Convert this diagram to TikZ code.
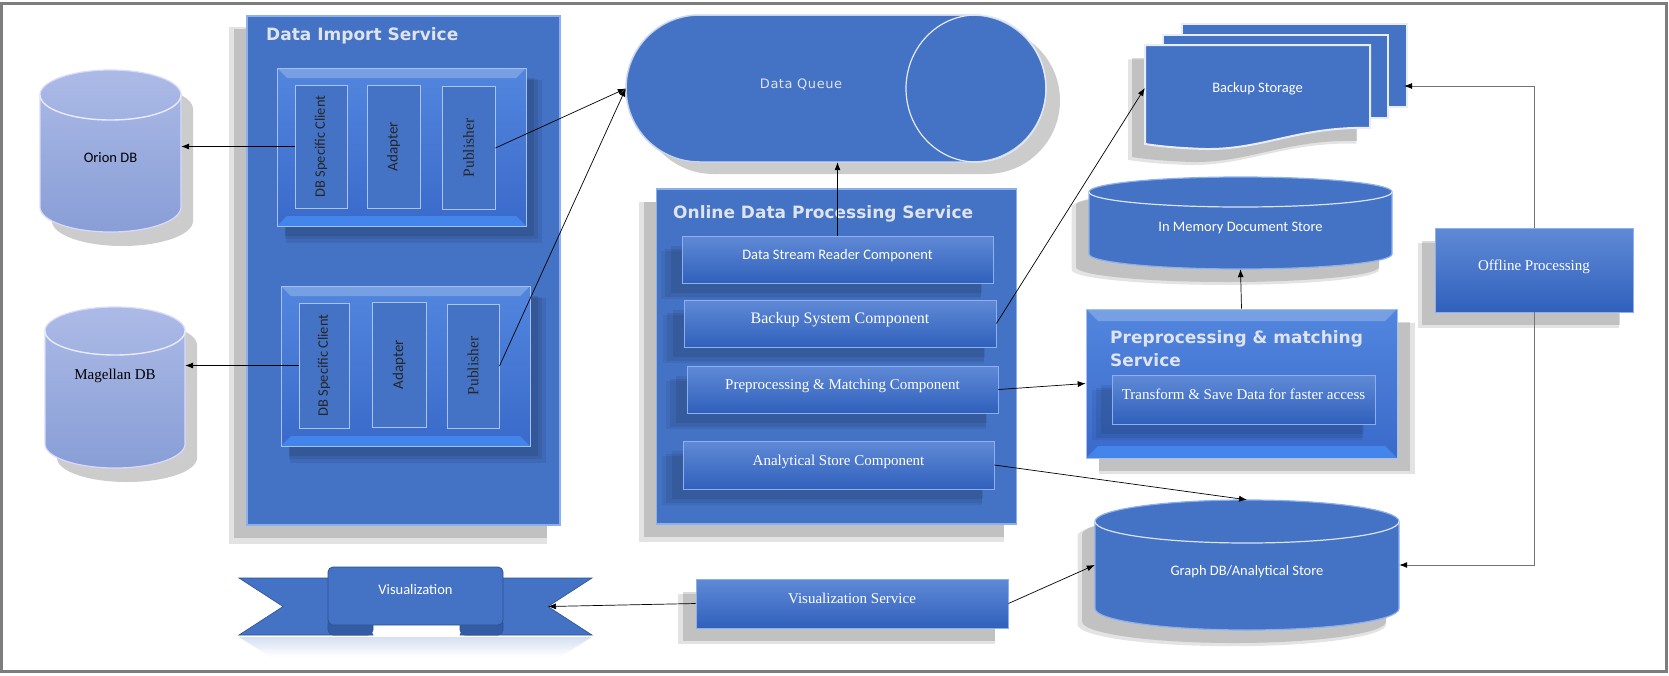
\documentclass[tikz,border=0pt]{standalone}
\usepackage{fontspec}
\setmainfont{Liberation Serif}
\newfontfamily\calibri{Carlito}
\newfontfamily\verdana{DejaVu Sans}
\newfontfamily\queuefont[LetterSpace=4]{DejaVu Sans}
\usetikzlibrary{arrows.meta,shadows}
\definecolor{officeblue}{RGB}{68,114,196}
\definecolor{comptop}{RGB}{96,138,214}
\definecolor{compbottom}{RGB}{48,96,188}
\definecolor{blueedge}{RGB}{140,176,236}
\definecolor{grouptop}{RGB}{82,134,222}
\definecolor{groupbottom}{RGB}{58,106,202}
\definecolor{bevelglow}{RGB}{70,142,246}
\definecolor{lavtop}{RGB}{172,186,230}
\definecolor{lavbottom}{RGB}{136,158,214}
\definecolor{titlegray}{RGB}{222,227,236}
\definecolor{pageedge}{RGB}{232,236,244}
\definecolor{ribbonedge}{RGB}{47,82,143}
\definecolor{ribbonfold}{RGB}{52,92,166}
\definecolor{framegray}{RGB}{125,125,125}

% drum: body style, rim style, centre x, top y, x radius, bottom y, y radius
\newcommand{\drawdrum}[7]{%
  \path[#1] (#3-#5,#4+#7) -- (#3-#5,#6-#7) arc[start angle=180,end angle=0,x radius=#5,y radius=#7]
    -- (#3+#5,#4+#7) arc[start angle=0,end angle=-180,x radius=#5,y radius=#7] -- cycle;
  \draw[#2] (#3-#5,#4+#7) arc[start angle=180,end angle=0,x radius=#5,y radius=#7];
}

\tikzset{
  container/.style={rectangle, draw=blueedge, line width=1.5pt, fill=officeblue, inner sep=0pt},
  shadowleft/.style={drop shadow={shadow xshift=-15pt, shadow yshift=-15pt, fill=black, opacity=.11, shadow scale=1.015},
                     drop shadow={shadow xshift=-13pt, shadow yshift=-13pt, fill=black, opacity=.15}},
  shadowright/.style={drop shadow={shadow xshift=15pt, shadow yshift=-15pt, fill=black, opacity=.11, shadow scale=1.015},
                      drop shadow={shadow xshift=13pt, shadow yshift=-13pt, fill=black, opacity=.15}},
  compshadow/.style={drop shadow={shadow xshift=-16pt, shadow yshift=-15pt, fill=black, opacity=.06, shadow scale=1.03},
                     drop shadow={shadow xshift=-14pt, shadow yshift=-13pt, fill=black, opacity=.07, shadow scale=1.015},
                     drop shadow={shadow xshift=-11pt, shadow yshift=-10pt, fill=black, opacity=.08}},
  groupshadow/.style={drop shadow={shadow xshift=12pt, shadow yshift=-14pt, fill=black, opacity=.07, shadow scale=1.03},
                      drop shadow={shadow xshift=10pt, shadow yshift=-12pt, fill=black, opacity=.08, shadow scale=1.015},
                      drop shadow={shadow xshift=8pt, shadow yshift=-10pt, fill=black, opacity=.09}},
  bevelled/.style={path picture={
    \fill[white, opacity=.22] (path picture bounding box.north west) -- (path picture bounding box.north east)
      -- ([shift={(-#1,-#1)}]path picture bounding box.north east) -- ([shift={(#1,-#1)}]path picture bounding box.north west) -- cycle;
    \fill[bevelglow, opacity=.75] (path picture bounding box.south west) -- (path picture bounding box.south east)
      -- ([shift={(-#1,#1)}]path picture bounding box.south east) -- ([shift={(#1,#1)}]path picture bounding box.south west) -- cycle;
  }},
  svctitle/.style={text=titlegray, font=\verdana\bfseries\fontsize{17}{23}\selectfont, inner sep=0pt, align=left},
  compbox/.style={rectangle, draw=blueedge, line width=.8pt, top color=comptop, bottom color=compbottom,
    text=white, inner sep=0pt, text height=11pt, text depth=11pt, font=\fontsize{15}{18}\selectfont},
  importgroup/.style={rectangle, top color=grouptop, bottom color=groupbottom, draw=blueedge!80, line width=.6pt,
    bevelled=10pt, groupshadow},
  importpart/.style={rectangle, fill=officeblue, draw=blueedge!75, line width=.9pt, text=black!85,
    minimum height=123pt, inner sep=0pt},
  lavbody/.style={top color=lavtop, bottom color=lavbottom, draw=white!85!blue, line width=1.2pt,
    drop shadow={shadow xshift=12pt, shadow yshift=-14pt, fill=black, opacity=.2}},
  lavrim/.style={draw=white!92!blue, line width=1.4pt},
  bluebody/.style={fill=officeblue, draw=blueedge, line width=1.2pt, shadowleft},
  bluerim/.style={draw=white!80!officeblue, line width=1.2pt},
  dbtext/.style={rectangle, inner sep=0pt, text depth=4pt},
  pagestyle/.style={fill=officeblue, draw=pageedge, line width=2pt},
  ribbonwing/.style={fill=officeblue, draw=ribbonedge, line width=.6pt},
  vizpanel/.style={rectangle, rounded corners=5pt, fill=officeblue, draw=ribbonedge, line width=.8pt,
    minimum width=175pt, minimum height=58pt, inner sep=0pt, text=white, text height=10pt, text depth=14pt,
    font=\calibri\fontsize{14.5}{17}\selectfont},
  link/.style={-{Latex[length=8pt,width=6pt]}, line width=.7pt, black},
  glink/.style={-{Latex[length=8pt,width=6pt,black]}, line width=.9pt, draw=black!55}
}

\begin{document}
\begin{tikzpicture}[x=1pt,y=-1pt]
\useasboundingbox (0,0) rectangle (1669,675);
\fill[white] (0,0) rectangle (1669,675);
\draw[framegray, line width=3pt] (1.5,3.5) rectangle (1666,671.5);

% source databases
\drawdrum{lavbody}{lavrim}{110.5}{70}{70.5}{232}{25}
\node[dbtext, minimum width=141pt, minimum height=162pt, text height=26.4pt, font=\calibri\fontsize{14.5}{17}\selectfont] (orion) at (110.5,151) {Orion DB};
\drawdrum{lavbody}{lavrim}{115}{307}{70}{468}{24}
\node[dbtext, minimum width=140pt, minimum height=161pt, text height=10pt, text depth=27pt, font=\fontsize{15}{18}\selectfont] (magellan) at (115,387.5) {Magellan DB};

% data import service
\node[container, shadowleft, minimum width=313pt, minimum height=509pt] (dis) at (403.5,270.5) {};
\node[svctitle, anchor=west] (distitle) at (266,36) {Data Import Service};
\node[importgroup, minimum width=249pt, minimum height=158pt] (grpA) at (401.5,147) {};
\node[importpart, minimum width=52pt] (clientA) at (321,146.5) {\rotatebox{90}{\calibri\fontsize{14.5}{17}\selectfont DB Specific Client}};
\node[importpart, minimum width=53pt] (adapterA) at (393.5,146.5) {\rotatebox{90}{\calibri\fontsize{15}{17}\selectfont Adapter}};
\node[importpart, minimum width=53pt] (pubA) at (468.5,148) {\rotatebox{90}{\fontsize{15.5}{18}\selectfont Publisher}};
\node[importgroup, minimum width=249pt, minimum height=160pt] (grpB) at (405.5,366) {};
\node[importpart, minimum width=50pt, minimum height=125pt] (clientB) at (324,365.5) {\rotatebox{90}{\calibri\fontsize{14.5}{17}\selectfont DB Specific Client}};
\node[importpart, minimum width=54pt, minimum height=125pt] (adapterB) at (399,364.5) {\rotatebox{90}{\calibri\fontsize{15}{17}\selectfont Adapter}};
\node[importpart, minimum width=52pt, minimum height=124pt] (pubB) at (473,366) {\rotatebox{90}{\fontsize{15.5}{18}\selectfont Publisher}};

% queue
\draw[fill=officeblue, draw=white!70!officeblue, line width=1.5pt, rounded corners=73.5pt,
      drop shadow={shadow xshift=14pt, shadow yshift=-12pt, fill=black, opacity=.2}] (626,15) rectangle (1046,162);
\draw[white!85!officeblue, line width=1.2pt] (976,88.5) ellipse [x radius=70, y radius=73.5];
\node[rectangle, inner sep=0pt, minimum width=350pt, minimum height=147pt, text=titlegray, text height=10pt, text depth=11pt,
      font=\queuefont\fontsize{13}{16}\selectfont] (queue) at (801,88.5) {Data Queue};

% online data processing service
\node[container, shadowleft, minimum width=360pt, minimum height=335pt] (odps) at (836.5,356.5) {};
\node[svctitle, anchor=west] (odpstitle) at (673,214) {Online Data Processing Service};
\node[compbox, compshadow, minimum width=311pt, minimum height=47pt, font=\calibri\fontsize{14.5}{17}\selectfont] (reader) at (837.5,259.5) {Data Stream Reader Component};
\node[compbox, compshadow, minimum width=312pt, minimum height=47pt, font=\fontsize{16}{19}\selectfont] (backupcomp) at (840,323.5) {Backup System Component};
\node[compbox, compshadow, minimum width=311pt, minimum height=47pt] (matchcomp) at (842.5,389.5) {Preprocessing \& Matching Component};
\node[compbox, compshadow, minimum width=311pt, minimum height=48pt] (analyticcomp) at (838.5,465) {Analytical Store Component};

% backup storage
\foreach \dx/\dy in {37/-21.5,18/-10.5}
  \draw[pagestyle] (1145+\dx,45+\dy) rectangle (1370+\dx,128+\dy);
\draw[pagestyle, shadowleft] (1145,45) -- (1370,45) -- (1370,128) .. controls (1300,126) and (1262,150) .. (1205,149)
  .. controls (1175,148) and (1158,146) .. (1145,144) -- cycle;
\node[text=white, font=\calibri\fontsize{14.5}{17}\selectfont, minimum width=225pt, minimum height=20pt, inner sep=0pt,
      text height=12pt, text depth=4pt] (bstore) at (1257.5,88) {Backup Storage};
\coordinate (bsback) at (1404,86);

% stores and matching service
\drawdrum{bluebody}{bluerim}{1240.5}{177}{151.5}{269}{15}
\node[dbtext, minimum width=303pt, minimum height=92pt, text height=21.4pt, text=white, font=\calibri\fontsize{14.5}{17}\selectfont] (memstore) at (1240.5,223) {In Memory Document Store};
\node[rectangle, top color=grouptop, bottom color=groupbottom, draw=blueedge!80, line width=.6pt, bevelled=12pt,
      shadowright, minimum width=311pt, minimum height=149pt] (matchsvc) at (1241.5,383.5) {};
\node[svctitle, anchor=west] (matchtitle) at (1110,348.5) {Preprocessing \& matching\\Service};
\node[compbox, compshadow, minimum width=263pt, minimum height=49pt] (transform) at (1243.5,399.5) {Transform \& Save Data for faster access};
\node[compbox, shadowleft, minimum width=198pt, minimum height=84pt] (offline) at (1534,270) {Offline Processing};
\drawdrum{bluebody}{bluerim}{1247}{500}{152}{630}{21.5}
\node[dbtext, minimum width=304pt, minimum height=130pt, text height=25.4pt, text=white, font=\calibri\fontsize{14.5}{17}\selectfont] (graphdb) at (1247,565) {Graph DB/Analytical Store};

% visualization
\node[compbox, shadowleft, minimum width=312pt, minimum height=49pt] (vizsvc) at (852,603.5) {Visualization Service};
\shade[top color=officeblue!22, bottom color=white] (239,637) -- (592,637) -- (560,657) -- (271,657) -- cycle;
\draw[ribbonwing] (373,635) -- (239,635) -- (283,606.5) -- (239,578) -- (340,578) -- cycle;
\draw[ribbonwing] (460,635) -- (592,635) -- (548,606.5) -- (592,578) -- (490,578) -- cycle;
\draw[ribbonwing, fill=ribbonfold, rounded corners=5pt] (328,618) rectangle (373,635);
\draw[ribbonwing, fill=ribbonfold, rounded corners=5pt] (460,618) rectangle (503,635);
\node[vizpanel] (viz) at (415.5,596) {Visualization};
\coordinate (viznotch) at (548,606.5);

% connectors
\draw[link] (clientA.west) -- (clientA.west -| orion.east);
\draw[link] (clientB.west) -- (clientB.west -| magellan.east);
\draw[link] (pubA.east) -- (queue.west);
\draw[link] (pubB.east) -- (queue.west);
\draw[link] (reader.north) -- (reader.north |- queue.south);
\draw[link] (backupcomp.east) -- (bstore.west);
\draw[link] (matchcomp.east) -- (matchsvc.west);
\draw[link] (matchsvc.north) -- (memstore.south);
\draw[link] (analyticcomp.east) -- (graphdb.north);
\draw[link] (vizsvc.east) -- (graphdb.west);
\draw[link] (vizsvc.west) -- (viznotch);
\draw[glink] (offline.north) |- (bsback);
\draw[glink] (offline.south) |- (graphdb.east);
\end{tikzpicture}
\end{document}
